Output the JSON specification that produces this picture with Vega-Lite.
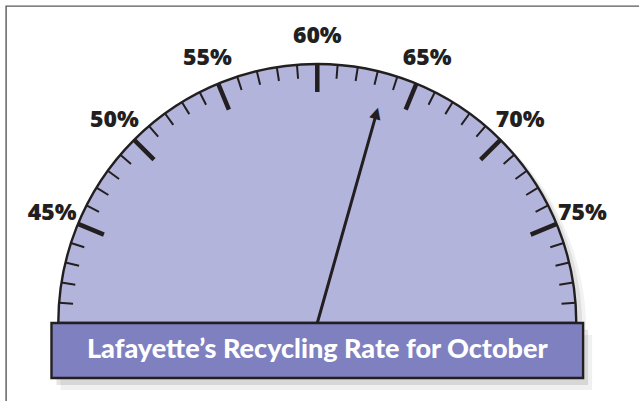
{
  "$schema": "https://vega.github.io/schema/vega-lite/v6.json",
  "width": 636,
  "height": 398,
  "autosize": {"type": "none"},
  "padding": {"left": 6, "top": 6, "right": -3, "bottom": -3},
  "background": "#ffffff",
  "config": {"view": {"stroke": "#58595b", "strokeWidth": 1.4}},
  "datasets": {
    "ticks": [
      {"v": 0.41, "kind": "minor"}, {"v": 0.42, "kind": "minor"}, {"v": 0.43, "kind": "minor"}, {"v": 0.44, "kind": "minor"},
      {"v": 0.45, "kind": "major"},
      {"v": 0.46, "kind": "minor"}, {"v": 0.47, "kind": "minor"}, {"v": 0.48, "kind": "minor"}, {"v": 0.49, "kind": "minor"},
      {"v": 0.50, "kind": "major"},
      {"v": 0.51, "kind": "minor"}, {"v": 0.52, "kind": "minor"}, {"v": 0.53, "kind": "minor"}, {"v": 0.54, "kind": "minor"},
      {"v": 0.55, "kind": "major"},
      {"v": 0.56, "kind": "minor"}, {"v": 0.57, "kind": "minor"}, {"v": 0.58, "kind": "minor"}, {"v": 0.59, "kind": "minor"},
      {"v": 0.60, "kind": "major"},
      {"v": 0.61, "kind": "minor"}, {"v": 0.62, "kind": "minor"}, {"v": 0.63, "kind": "minor"}, {"v": 0.64, "kind": "minor"},
      {"v": 0.65, "kind": "major"},
      {"v": 0.66, "kind": "minor"}, {"v": 0.67, "kind": "minor"}, {"v": 0.68, "kind": "minor"}, {"v": 0.69, "kind": "minor"},
      {"v": 0.70, "kind": "major"},
      {"v": 0.71, "kind": "minor"}, {"v": 0.72, "kind": "minor"}, {"v": 0.73, "kind": "minor"}, {"v": 0.74, "kind": "minor"},
      {"v": 0.75, "kind": "major"},
      {"v": 0.76, "kind": "minor"}, {"v": 0.77, "kind": "minor"}, {"v": 0.78, "kind": "minor"}, {"v": 0.79, "kind": "minor"}
    ],
    "reading": [{"month": "October", "rate": 0.635}],
    "one": [{"label": "Lafayette’s Recycling Rate for October"}]
  },
  "encoding": {
    "x": {"datum": 0, "type": "quantitative", "scale": {"domain": [-1.2019, 1.2537], "nice": false, "zero": false}, "axis": null},
    "y": {"datum": 0, "type": "quantitative", "scale": {"domain": [-0.3127, 1.2239], "nice": false, "zero": false}, "axis": null}
  },
  "layer": [
    {
      "data": {"name": "one"},
      "mark": {"type": "arc", "radius": 259, "fill": "#000000", "opacity": 0.05, "xOffset": 10, "yOffset": 8},
      "encoding": {
        "theta": {"datum": 0.4, "type": "quantitative", "scale": {"domain": [0.4, 0.8], "range": [-1.5707963, 1.5707963], "nice": false, "zero": false}},
        "theta2": {"datum": 0.8}
      }
    },
    {
      "data": {"name": "one"},
      "mark": {"type": "arc", "radius": 259, "fill": "#000000", "opacity": 0.08, "xOffset": 6, "yOffset": 5},
      "encoding": {
        "theta": {"datum": 0.4, "type": "quantitative", "scale": {"domain": [0.4, 0.8], "range": [-1.5707963, 1.5707963], "nice": false, "zero": false}},
        "theta2": {"datum": 0.8}
      }
    },
    {
      "data": {"name": "one"},
      "mark": {"type": "rect", "fill": "#000000", "opacity": 0.06, "xOffset": 9, "x2Offset": 9, "yOffset": 12, "y2Offset": 12},
      "encoding": {
        "x": {"datum": -1.0263, "type": "quantitative"},
        "x2": {"datum": 1.0263},
        "y": {"datum": 0, "type": "quantitative"},
        "y2": {"datum": -0.2124}
      }
    },
    {
      "data": {"name": "one"},
      "mark": {"type": "rect", "fill": "#000000", "opacity": 0.1, "xOffset": 5, "x2Offset": 5, "yOffset": 7, "y2Offset": 7},
      "encoding": {
        "x": {"datum": -1.0263, "type": "quantitative"},
        "x2": {"datum": 1.0263},
        "y": {"datum": 0, "type": "quantitative"},
        "y2": {"datum": -0.2124}
      }
    },
    {
      "data": {"name": "one"},
      "mark": {"type": "arc", "radius": 259, "fill": "#b3b4db", "stroke": "#231f20", "strokeWidth": 2.4},
      "encoding": {
        "theta": {"datum": 0.4, "type": "quantitative", "scale": {"domain": [0.4, 0.8], "range": [-1.5707963, 1.5707963], "nice": false, "zero": false}},
        "theta2": {"datum": 0.8}
      }
    },
    {
      "data": {"name": "ticks"},
      "transform": [{"filter": "datum.kind === 'minor'"}],
      "mark": {"type": "arc", "radius": 259, "radius2": 245, "filled": false, "stroke": "#231f20", "strokeWidth": 2},
      "encoding": {
        "theta": {"field": "v", "type": "quantitative", "stack": null, "scale": {"domain": [0.4, 0.8], "range": [-1.5707963, 1.5707963], "nice": false, "zero": false}},
        "theta2": {"field": "v"}
      }
    },
    {
      "data": {"name": "ticks"},
      "transform": [{"filter": "datum.kind === 'major'"}],
      "mark": {"type": "arc", "radius": 259, "radius2": 231, "filled": false, "stroke": "#231f20", "strokeWidth": 4.5},
      "encoding": {
        "theta": {"field": "v", "type": "quantitative", "stack": null, "scale": {"domain": [0.4, 0.8], "range": [-1.5707963, 1.5707963], "nice": false, "zero": false}},
        "theta2": {"field": "v"}
      }
    },
    {
      "data": {"name": "ticks"},
      "transform": [{"filter": "datum.kind === 'major'"}],
      "mark": {"type": "text", "radius": 287, "font": "Open Sans", "fontWeight": 800, "fontSize": 23, "fill": "#231f20", "align": "center", "baseline": "middle"},
      "encoding": {
        "theta": {"field": "v", "type": "quantitative", "stack": null, "scale": {"domain": [0.4, 0.8], "range": [-1.5707963, 1.5707963], "nice": false, "zero": false}},
        "text": {"field": "v", "type": "quantitative", "format": ".0%"}
      }
    },
    {
      "data": {"name": "reading"},
      "mark": {"type": "arc", "radius": 214, "radius2": 0, "filled": false, "stroke": "#231f20", "strokeWidth": 3},
      "encoding": {
        "theta": {"field": "rate", "type": "quantitative", "stack": null, "scale": {"domain": [0.4, 0.8], "range": [-1.5707963, 1.5707963], "nice": false, "zero": false}},
        "theta2": {"field": "rate"}
      }
    },
    {
      "data": {"name": "reading"},
      "mark": {"type": "text", "text": "▲", "radius": 219, "font": "DejaVu Sans", "fontSize": 15, "fill": "#231f20", "align": "center", "baseline": "middle"},
      "encoding": {
        "theta": {"field": "rate", "type": "quantitative", "stack": null, "scale": {"domain": [0.4, 0.8], "range": [-1.5707963, 1.5707963], "nice": false, "zero": false}},
        "angle": {"field": "rate", "type": "quantitative", "scale": {"domain": [0.4, 0.8], "range": [-90, 90]}}
      }
    },
    {
      "data": {"name": "one"},
      "mark": {"type": "rect", "fill": "#7f80bf", "stroke": "#231f20", "strokeWidth": 2.4},
      "encoding": {
        "x": {"datum": -1.0263, "type": "quantitative"},
        "x2": {"datum": 1.0263},
        "y": {"datum": 0, "type": "quantitative"},
        "y2": {"datum": -0.2124}
      }
    },
    {
      "data": {"name": "one"},
      "mark": {"type": "text", "font": "Lato", "fontWeight": 900, "fontSize": 27, "fill": "#ffffff", "align": "center", "baseline": "alphabetic"},
      "encoding": {
        "x": {"datum": 0, "type": "quantitative"},
        "y": {"datum": -0.134, "type": "quantitative"},
        "text": {"field": "label", "type": "nominal"}
      }
    }
  ]
}
